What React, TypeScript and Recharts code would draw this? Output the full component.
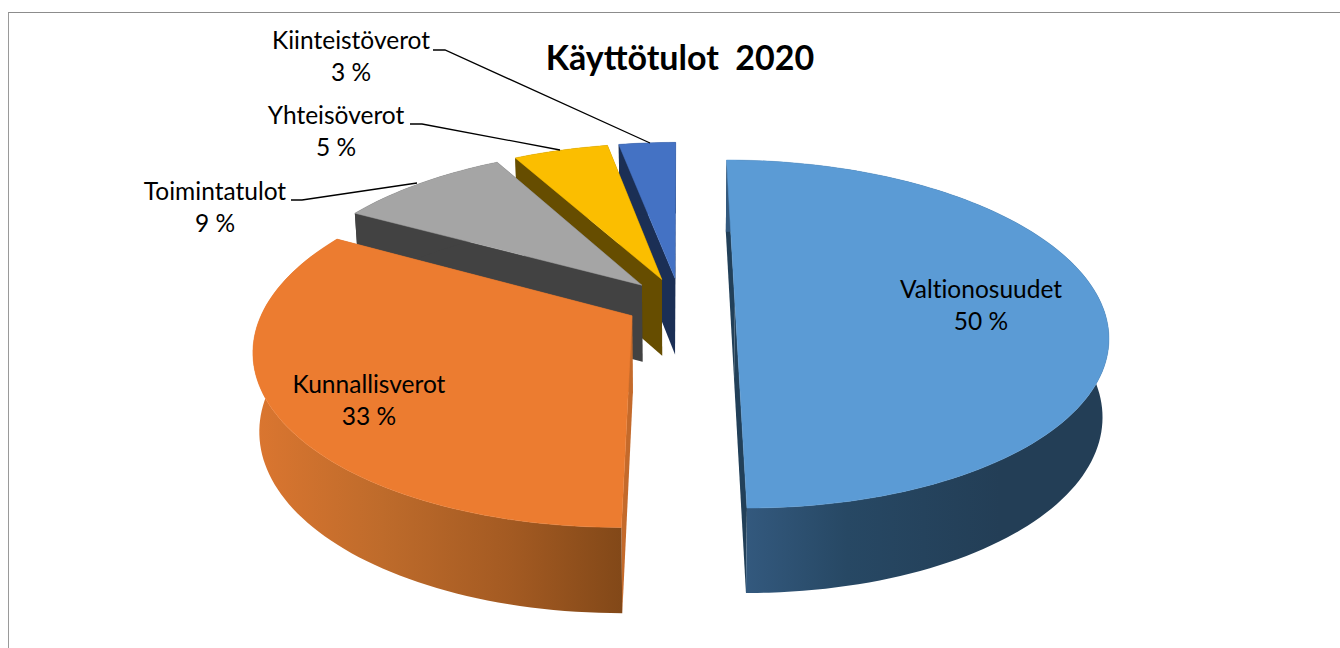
import React from "react";
import { PieChart, Pie } from "recharts";

const sliceNames = ["Kiinteistöverot", "Yhteisöverot", "Toimintatulot", "Kunnallisverot", "Valtionosuudet"];
const sliceValues = [3, 5, 9, 33, 50];

const topColors = ["#4472C4", "#FBBE00", "#A5A5A5", "#EC7C30", "#5B9BD5"];
const cutColors = ["#1B2F55", "#664D00", "#424242", "#C46A2B", "#224059"];
const wallColors = ["#1B2F55", "#664D00", "#424242", "url(#wallOrange)", "url(#wallBlue)"];

const W = 1340;
const H = 648;
const CX = 680;
const CY = 302.7;
const RADIUS = 366;
const EXPLODE = 0.15;
const PERSP = 0.18;
const TOP_TILT = 0.46;
const BOTTOM_SCALE = 0.985;
const BOTTOM_TILT = 0.4774;
const BOTTOM_DROP = 77.2;

const FONT = "Lato, 'Open Sans', sans-serif";

const rad = (d: number) => (d * Math.PI) / 180;

function project(cx: number, cy: number, k: number, mid: number, angle: number, r: number, lower: boolean): [number, number] {
  const u = r * Math.cos(rad(angle)) + EXPLODE * Math.cos(rad(mid));
  const v = r * Math.sin(rad(angle)) + EXPLODE * Math.sin(rad(mid));
  const w = 1 + v * PERSP;
  if (lower) {
    return [cx + (u * k * BOTTOM_SCALE) / w, cy + BOTTOM_DROP - (v * k * BOTTOM_TILT) / w];
  }
  return [cx + (u * k) / w, cy - (v * k * TOP_TILT) / w];
}

const toPath = (pts: [number, number][]) =>
  "M" + pts.map((p) => `${p[0].toFixed(2)},${p[1].toFixed(2)}`).join("L") + "Z";

function Slice3D(props: any) {
  const { cx, cy, outerRadius, startAngle, endAngle, index } = props;
  const i: number = index ?? 0;
  const mid = (startAngle + endAngle) / 2;
  const n = Math.max(4, Math.ceil(Math.abs(endAngle - startAngle) / 1.5));
  const P = (a: number, r: number, low: boolean) => project(cx, cy, outerRadius, mid, a, r, low);
  const angles: number[] = [];
  for (let j = 0; j <= n; j++) angles.push(startAngle + ((endAngle - startAngle) * j) / n);

  const topArc = angles.map((a) => P(a, 1, false));
  const lowArc = angles.map((a) => P(a, 1, true));
  const top = toPath([P(mid, 0, false), ...topArc]);
  const wall = toPath([...topArc, ...[...lowArc].reverse()]);
  const cut = (a: number) => toPath([P(a, 0, false), P(a, 1, false), P(a, 1, true), P(a, 0, true)]);

  return (
    <g>
      <defs>
        <linearGradient id="wallOrange" gradientUnits="userSpaceOnUse" x1="253" y1="0" x2="623" y2="0">
          <stop offset="0" stopColor="#DB7630" />
          <stop offset="0.35" stopColor="#BE6B2B" />
          <stop offset="0.7" stopColor="#A35A22" />
          <stop offset="1" stopColor="#824818" />
        </linearGradient>
        <linearGradient id="wallBlue" gradientUnits="userSpaceOnUse" x1="745" y1="0" x2="1000" y2="0">
          <stop offset="0" stopColor="#33597E" />
          <stop offset="0.4" stopColor="#274864" />
          <stop offset="1" stopColor="#233E56" />
        </linearGradient>
      </defs>
      <path d={cut(startAngle)} fill={cutColors[i]} />
      <path d={cut(endAngle)} fill={cutColors[i]} />
      <path d={wall} fill={wallColors[i]} />
      <path d={top} fill={topColors[i]} stroke={topColors[i]} strokeWidth={0.5} />
    </g>
  );
}

const labelLayout: Record<string, { x: number; y: number; leader?: [number, number][] }> = {
  Kiinteistöverot: { x: 351, y: 39.5, leader: [[433, 50], [445, 50], [650, 143]] },
  Yhteisöverot: { x: 336, y: 114.5, leader: [[410, 124], [422, 124], [560, 150]] },
  Toimintatulot: { x: 215, y: 190.5, leader: [[291, 200], [302, 200], [417, 183]] },
  Kunnallisverot: { x: 369, y: 383.5 },
  Valtionosuudet: { x: 981, y: 288.5 },
};

const labelText = { fontVariantLigatures: "none" as const };

function SliceLabel(props: any) {
  const { name, value } = props;
  const l = labelLayout[name];
  if (!l) return null;
  return (
    <g>
      {l.leader && (
        <polyline points={l.leader.map((p) => p.join(",")).join(" ")} fill="none" stroke="#000" strokeWidth={1.3} />
      )}
      <text x={l.x} y={l.y} textAnchor="middle" dominantBaseline="central" fontFamily={FONT} fontSize={24.5} fill="#000" style={labelText}>
        {name}
      </text>
      <text x={l.x} y={l.y + 32} textAnchor="middle" dominantBaseline="central" fontFamily={FONT} fontSize={24.5} fill="#000" style={labelText}>
        {`${value} %`}
      </text>
    </g>
  );
}

const pieData = sliceNames.map((name, i) => ({ name, value: sliceValues[i] }));

export default function App() {
  return (
    <div style={{ position: "absolute", left: 0, top: 0, width: W, height: H, background: "#fff", overflow: "hidden" }}>
      <div
        style={{
          position: "absolute",
          left: 8,
          top: 12,
          right: -4,
          bottom: -4,
          borderTop: "1px solid #8c8c8c",
          borderLeft: "1px solid #9a9a9a",
        }}
      />
      <div style={{ position: "absolute", left: 0, top: 0 }}>
        <PieChart width={W} height={H} margin={{ top: 0, right: 0, bottom: 0, left: 0 }}>
          <text
            x={680}
            y={56.5}
            textAnchor="middle"
            dominantBaseline="central"
            fontFamily={FONT}
            fontWeight={700}
            fontSize={34}
            fill="#000"
            style={{ whiteSpace: "pre" }}
          >
            {"Käyttötulot  2020"}
          </text>
          <Pie
            data={pieData}
            dataKey="value"
            nameKey="name"
            cx={CX}
            cy={CY}
            innerRadius={0}
            outerRadius={RADIUS}
            startAngle={90}
            endAngle={450}
            paddingAngle={0}
            stroke="none"
            isAnimationActive={false}
            shape={Slice3D as any}
            label={SliceLabel as any}
            labelLine={false}
          />
        </PieChart>
      </div>
    </div>
  );
}
